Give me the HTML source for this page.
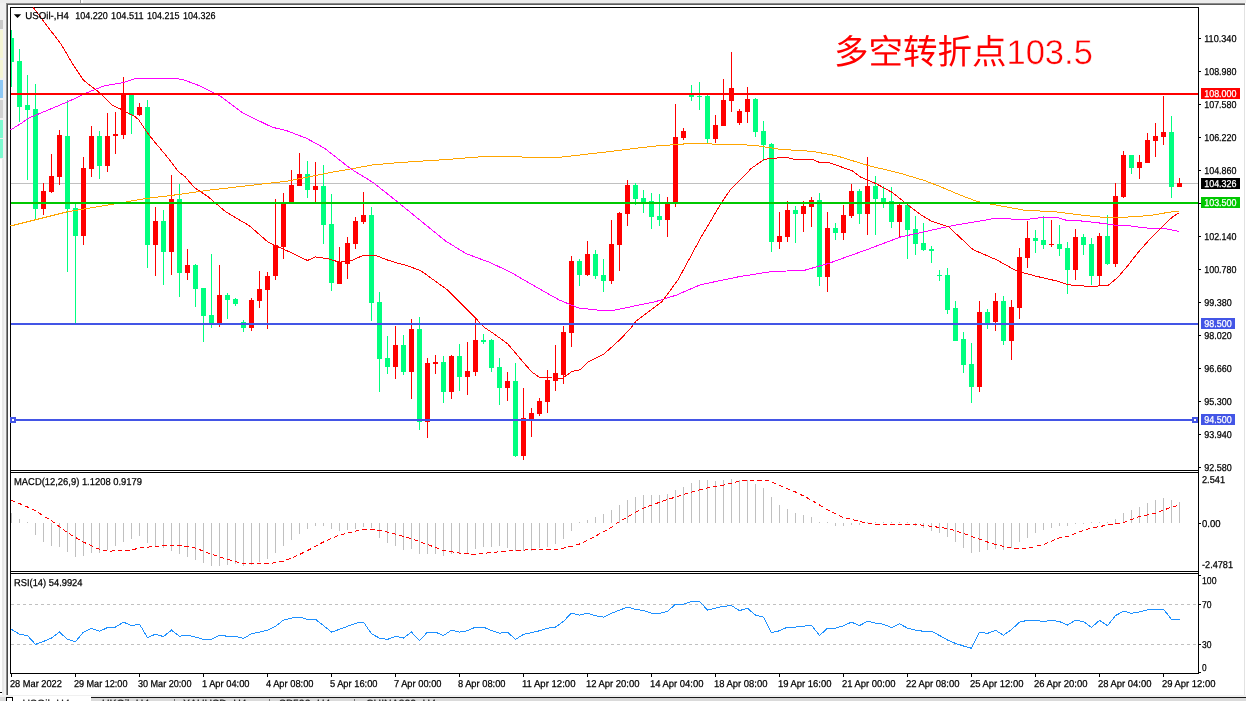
<!DOCTYPE html>
<html><head><meta charset="utf-8"><title>USOil H4</title>
<style>
html,body{margin:0;padding:0;background:#fff;}
body{width:1246px;height:701px;overflow:hidden;font-family:"Liberation Sans",sans-serif;}
svg{display:block;font-family:"Liberation Sans",sans-serif;text-rendering:geometricPrecision;will-change:transform;}
svg rect,svg polyline,svg line{shape-rendering:crispEdges;}
</style></head><body>
<svg width="1246" height="701" viewBox="0 0 1246 701">
<rect x="0" y="0" width="1246" height="701" fill="#fff"/>
<rect x="0" y="0" width="1246" height="3" fill="#ececec"/>
<rect x="80" y="0" width="1" height="3" fill="#9a9a9a"/>
<rect x="81" y="0" width="2" height="3" fill="#fdfdfd"/>
<rect x="6" y="3" width="1239" height="1" fill="#8a8a8a"/>
<rect x="6" y="4" width="1239" height="1" fill="#5a5a5a"/>
<rect x="0" y="3" width="6" height="692" fill="#f0f0f0"/>
<rect x="0" y="20" width="3" height="9" fill="#c8c8c8"/>
<rect x="0" y="30" width="3" height="28" fill="#f5f5d5"/>
<rect x="0" y="60" width="3" height="18" fill="#f5f5d5"/>
<rect x="0" y="80" width="3" height="18" fill="#8ec8f5"/>
<rect x="0" y="100" width="3" height="18" fill="#d2d2d2"/>
<rect x="0" y="120" width="3" height="18" fill="#7dfad0"/>
<rect x="0" y="139" width="3" height="19" fill="#7dfad0"/>
<rect x="0" y="159" width="2" height="536" fill="#fff"/>
<rect x="2" y="159" width="2" height="536" fill="#e9e9e9"/>
<rect x="4" y="159" width="2" height="536" fill="#f3f3f3"/>
<rect x="6" y="3" width="1" height="693" fill="#8c8c8c"/>
<rect x="7" y="4" width="1" height="692" fill="#4a4a4a"/>
<rect x="0" y="692" width="2" height="1" fill="#000"/>
<rect x="1244" y="5" width="1" height="690" fill="#e2e2e2"/>
<rect x="0" y="695" width="1246" height="2" fill="#f0f0f0"/>
<rect x="0" y="697" width="1246" height="4" fill="#dadada"/>
<rect x="13" y="696" width="78" height="5" fill="#fff"/>
<rect x="91" y="697" width="1155" height="1" fill="#1a1a1a"/>
<rect x="6" y="697" width="7" height="1" fill="#000"/>
<rect x="6" y="697" width="1" height="4" fill="#000"/>
<rect x="12" y="697" width="1" height="4" fill="#000"/>
<rect x="7" y="698" width="5" height="3" fill="#fff"/>
<text x="22.5" y="707.2" font-size="10.5" fill="#222" stroke="#222" stroke-width="0.25">USOil-,H4</text>
<text x="102" y="707.2" font-size="10.5" fill="#222" stroke="#222" stroke-width="0.25">UKOil-,H4</text>
<text x="183" y="707.2" font-size="10.5" fill="#222" stroke="#222" stroke-width="0.25">XAUUSD-,H4</text>
<text x="279" y="707.2" font-size="10.5" fill="#222" stroke="#222" stroke-width="0.25">SP500-,H4</text>
<text x="366" y="707.2" font-size="10.5" fill="#222" stroke="#222" stroke-width="0.25">CHINA300-,H4</text>
<rect x="174" y="699" width="1" height="2" fill="#777"/>
<rect x="269" y="699" width="1" height="2" fill="#777"/>
<rect x="354" y="699" width="1" height="2" fill="#777"/>
<rect x="10" y="7" width="1" height="667" fill="#000"/>
<rect x="1198" y="7" width="1" height="667" fill="#000"/>
<rect x="10" y="7" width="1189" height="1" fill="#000"/>
<rect x="10" y="470" width="1189" height="1" fill="#000"/>
<rect x="10" y="472" width="1189" height="1" fill="#000"/>
<rect x="10" y="571" width="1189" height="1" fill="#000"/>
<rect x="10" y="573" width="1189" height="1" fill="#000"/>
<rect x="10" y="673" width="1189" height="1" fill="#000"/>
<rect x="11" y="183" width="1187" height="1" fill="#c0c0c0"/>
<rect x="11" y="30" width="1" height="57" fill="#00FF7F"/>
<rect x="11" y="38" width="3" height="24" fill="#00FF7F"/>
<rect x="19" y="49" width="1" height="73" fill="#00FF7F"/>
<rect x="17" y="61" width="5" height="46" fill="#00FF7F"/>
<rect x="27" y="75" width="1" height="105" fill="#00FF7F"/>
<rect x="25" y="105" width="5" height="5" fill="#00FF7F"/>
<rect x="35" y="84" width="1" height="136" fill="#00FF7F"/>
<rect x="33" y="109" width="5" height="100" fill="#00FF7F"/>
<rect x="43" y="183" width="1" height="32" fill="#FF0000"/>
<rect x="41" y="191" width="5" height="18" fill="#FF0000"/>
<rect x="51" y="154" width="1" height="39" fill="#FF0000"/>
<rect x="49" y="176" width="5" height="16" fill="#FF0000"/>
<rect x="59" y="130" width="1" height="55" fill="#FF0000"/>
<rect x="57" y="135" width="5" height="42" fill="#FF0000"/>
<rect x="67" y="100" width="1" height="172" fill="#00FF7F"/>
<rect x="65" y="136" width="5" height="73" fill="#00FF7F"/>
<rect x="75" y="204" width="1" height="119" fill="#00FF7F"/>
<rect x="73" y="208" width="5" height="28" fill="#00FF7F"/>
<rect x="83" y="157" width="1" height="88" fill="#FF0000"/>
<rect x="81" y="168" width="5" height="68" fill="#FF0000"/>
<rect x="91" y="126" width="1" height="51" fill="#FF0000"/>
<rect x="89" y="136" width="5" height="33" fill="#FF0000"/>
<rect x="99" y="131" width="1" height="48" fill="#00FF7F"/>
<rect x="97" y="136" width="5" height="30" fill="#00FF7F"/>
<rect x="107" y="113" width="1" height="59" fill="#FF0000"/>
<rect x="105" y="136" width="5" height="30" fill="#FF0000"/>
<rect x="115" y="112" width="1" height="42" fill="#FF0000"/>
<rect x="113" y="134" width="5" height="2" fill="#FF0000"/>
<rect x="123" y="77" width="1" height="62" fill="#FF0000"/>
<rect x="121" y="93" width="5" height="42" fill="#FF0000"/>
<rect x="131" y="95" width="1" height="39" fill="#00FF7F"/>
<rect x="129" y="95" width="5" height="20" fill="#00FF7F"/>
<rect x="139" y="103" width="1" height="13" fill="#FF0000"/>
<rect x="137" y="107" width="5" height="8" fill="#FF0000"/>
<rect x="147" y="100" width="1" height="168" fill="#00FF7F"/>
<rect x="145" y="107" width="5" height="138" fill="#00FF7F"/>
<rect x="155" y="207" width="1" height="69" fill="#FF0000"/>
<rect x="153" y="221" width="5" height="24" fill="#FF0000"/>
<rect x="163" y="210" width="1" height="75" fill="#00FF7F"/>
<rect x="161" y="221" width="5" height="31" fill="#00FF7F"/>
<rect x="171" y="175" width="1" height="100" fill="#FF0000"/>
<rect x="169" y="199" width="5" height="53" fill="#FF0000"/>
<rect x="179" y="184" width="1" height="113" fill="#00FF7F"/>
<rect x="177" y="199" width="5" height="74" fill="#00FF7F"/>
<rect x="187" y="249" width="1" height="31" fill="#FF0000"/>
<rect x="185" y="265" width="5" height="8" fill="#FF0000"/>
<rect x="195" y="264" width="1" height="43" fill="#00FF7F"/>
<rect x="193" y="265" width="5" height="24" fill="#00FF7F"/>
<rect x="203" y="288" width="1" height="54" fill="#00FF7F"/>
<rect x="201" y="288" width="5" height="28" fill="#00FF7F"/>
<rect x="211" y="254" width="1" height="74" fill="#00FF7F"/>
<rect x="209" y="315" width="5" height="9" fill="#00FF7F"/>
<rect x="219" y="265" width="1" height="62" fill="#FF0000"/>
<rect x="217" y="295" width="5" height="29" fill="#FF0000"/>
<rect x="227" y="293" width="1" height="26" fill="#00FF7F"/>
<rect x="225" y="295" width="5" height="5" fill="#00FF7F"/>
<rect x="235" y="298" width="1" height="8" fill="#00FF7F"/>
<rect x="233" y="299" width="5" height="5" fill="#00FF7F"/>
<rect x="243" y="320" width="1" height="12" fill="#00FF7F"/>
<rect x="241" y="322" width="5" height="6" fill="#00FF7F"/>
<rect x="251" y="298" width="1" height="33" fill="#FF0000"/>
<rect x="249" y="300" width="5" height="28" fill="#FF0000"/>
<rect x="259" y="271" width="1" height="37" fill="#FF0000"/>
<rect x="257" y="289" width="5" height="12" fill="#FF0000"/>
<rect x="267" y="272" width="1" height="57" fill="#FF0000"/>
<rect x="265" y="276" width="5" height="14" fill="#FF0000"/>
<rect x="275" y="199" width="1" height="81" fill="#FF0000"/>
<rect x="273" y="245" width="5" height="31" fill="#FF0000"/>
<rect x="283" y="193" width="1" height="66" fill="#FF0000"/>
<rect x="281" y="204" width="5" height="43" fill="#FF0000"/>
<rect x="291" y="170" width="1" height="33" fill="#FF0000"/>
<rect x="289" y="185" width="5" height="18" fill="#FF0000"/>
<rect x="299" y="153" width="1" height="33" fill="#FF0000"/>
<rect x="297" y="174" width="5" height="12" fill="#FF0000"/>
<rect x="307" y="161" width="1" height="37" fill="#00FF7F"/>
<rect x="305" y="174" width="5" height="16" fill="#00FF7F"/>
<rect x="315" y="162" width="1" height="40" fill="#FF0000"/>
<rect x="313" y="186" width="5" height="4" fill="#FF0000"/>
<rect x="323" y="165" width="1" height="79" fill="#00FF7F"/>
<rect x="321" y="186" width="5" height="39" fill="#00FF7F"/>
<rect x="331" y="194" width="1" height="97" fill="#00FF7F"/>
<rect x="329" y="224" width="5" height="59" fill="#00FF7F"/>
<rect x="339" y="247" width="1" height="37" fill="#FF0000"/>
<rect x="337" y="262" width="5" height="22" fill="#FF0000"/>
<rect x="347" y="237" width="1" height="42" fill="#FF0000"/>
<rect x="345" y="243" width="5" height="21" fill="#FF0000"/>
<rect x="355" y="217" width="1" height="32" fill="#FF0000"/>
<rect x="353" y="221" width="5" height="23" fill="#FF0000"/>
<rect x="363" y="192" width="1" height="32" fill="#FF0000"/>
<rect x="361" y="215" width="5" height="7" fill="#FF0000"/>
<rect x="371" y="207" width="1" height="114" fill="#00FF7F"/>
<rect x="369" y="215" width="5" height="88" fill="#00FF7F"/>
<rect x="379" y="292" width="1" height="100" fill="#00FF7F"/>
<rect x="377" y="302" width="5" height="57" fill="#00FF7F"/>
<rect x="387" y="336" width="1" height="38" fill="#00FF7F"/>
<rect x="385" y="358" width="5" height="9" fill="#00FF7F"/>
<rect x="395" y="326" width="1" height="53" fill="#FF0000"/>
<rect x="393" y="345" width="5" height="22" fill="#FF0000"/>
<rect x="403" y="335" width="1" height="40" fill="#00FF7F"/>
<rect x="401" y="345" width="5" height="27" fill="#00FF7F"/>
<rect x="411" y="319" width="1" height="80" fill="#FF0000"/>
<rect x="409" y="329" width="5" height="43" fill="#FF0000"/>
<rect x="419" y="317" width="1" height="113" fill="#00FF7F"/>
<rect x="417" y="329" width="5" height="93" fill="#00FF7F"/>
<rect x="427" y="358" width="1" height="80" fill="#FF0000"/>
<rect x="425" y="363" width="5" height="59" fill="#FF0000"/>
<rect x="435" y="355" width="1" height="19" fill="#FF0000"/>
<rect x="433" y="362" width="5" height="2" fill="#FF0000"/>
<rect x="443" y="356" width="1" height="47" fill="#00FF7F"/>
<rect x="441" y="362" width="5" height="30" fill="#00FF7F"/>
<rect x="451" y="355" width="1" height="44" fill="#FF0000"/>
<rect x="449" y="356" width="5" height="36" fill="#FF0000"/>
<rect x="459" y="344" width="1" height="47" fill="#00FF7F"/>
<rect x="457" y="356" width="5" height="21" fill="#00FF7F"/>
<rect x="467" y="342" width="1" height="53" fill="#FF0000"/>
<rect x="465" y="371" width="5" height="6" fill="#FF0000"/>
<rect x="475" y="318" width="1" height="58" fill="#FF0000"/>
<rect x="473" y="340" width="5" height="32" fill="#FF0000"/>
<rect x="483" y="334" width="1" height="10" fill="#00FF7F"/>
<rect x="481" y="340" width="5" height="2" fill="#00FF7F"/>
<rect x="491" y="339" width="1" height="33" fill="#00FF7F"/>
<rect x="489" y="340" width="5" height="28" fill="#00FF7F"/>
<rect x="499" y="358" width="1" height="47" fill="#00FF7F"/>
<rect x="497" y="367" width="5" height="21" fill="#00FF7F"/>
<rect x="507" y="372" width="1" height="29" fill="#FF0000"/>
<rect x="505" y="381" width="5" height="7" fill="#FF0000"/>
<rect x="515" y="363" width="1" height="94" fill="#00FF7F"/>
<rect x="513" y="381" width="5" height="75" fill="#00FF7F"/>
<rect x="523" y="388" width="1" height="72" fill="#FF0000"/>
<rect x="521" y="418" width="5" height="38" fill="#FF0000"/>
<rect x="531" y="408" width="1" height="29" fill="#FF0000"/>
<rect x="529" y="413" width="5" height="6" fill="#FF0000"/>
<rect x="539" y="398" width="1" height="18" fill="#FF0000"/>
<rect x="537" y="401" width="5" height="13" fill="#FF0000"/>
<rect x="547" y="370" width="1" height="43" fill="#FF0000"/>
<rect x="545" y="380" width="5" height="22" fill="#FF0000"/>
<rect x="555" y="345" width="1" height="46" fill="#FF0000"/>
<rect x="553" y="373" width="5" height="8" fill="#FF0000"/>
<rect x="563" y="326" width="1" height="58" fill="#FF0000"/>
<rect x="561" y="332" width="5" height="43" fill="#FF0000"/>
<rect x="571" y="256" width="1" height="91" fill="#FF0000"/>
<rect x="569" y="261" width="5" height="72" fill="#FF0000"/>
<rect x="579" y="259" width="1" height="27" fill="#00FF7F"/>
<rect x="577" y="261" width="5" height="14" fill="#00FF7F"/>
<rect x="587" y="241" width="1" height="35" fill="#FF0000"/>
<rect x="585" y="254" width="5" height="21" fill="#FF0000"/>
<rect x="595" y="250" width="1" height="29" fill="#00FF7F"/>
<rect x="593" y="254" width="5" height="22" fill="#00FF7F"/>
<rect x="603" y="259" width="1" height="33" fill="#00FF7F"/>
<rect x="601" y="275" width="5" height="6" fill="#00FF7F"/>
<rect x="611" y="220" width="1" height="64" fill="#FF0000"/>
<rect x="609" y="244" width="5" height="37" fill="#FF0000"/>
<rect x="619" y="212" width="1" height="59" fill="#FF0000"/>
<rect x="617" y="213" width="5" height="32" fill="#FF0000"/>
<rect x="627" y="180" width="1" height="46" fill="#FF0000"/>
<rect x="625" y="185" width="5" height="29" fill="#FF0000"/>
<rect x="635" y="183" width="1" height="22" fill="#00FF7F"/>
<rect x="633" y="185" width="5" height="14" fill="#00FF7F"/>
<rect x="643" y="190" width="1" height="23" fill="#00FF7F"/>
<rect x="641" y="198" width="5" height="5" fill="#00FF7F"/>
<rect x="651" y="193" width="1" height="36" fill="#00FF7F"/>
<rect x="649" y="201" width="5" height="16" fill="#00FF7F"/>
<rect x="659" y="194" width="1" height="32" fill="#00FF7F"/>
<rect x="657" y="216" width="5" height="4" fill="#00FF7F"/>
<rect x="667" y="197" width="1" height="40" fill="#FF0000"/>
<rect x="665" y="204" width="5" height="16" fill="#FF0000"/>
<rect x="675" y="104" width="1" height="103" fill="#FF0000"/>
<rect x="673" y="137" width="5" height="65" fill="#FF0000"/>
<rect x="683" y="128" width="1" height="12" fill="#FF0000"/>
<rect x="681" y="131" width="5" height="7" fill="#FF0000"/>
<rect x="691" y="85" width="1" height="16" fill="#00FF7F"/>
<rect x="689" y="95" width="5" height="2" fill="#00FF7F"/>
<rect x="699" y="82" width="1" height="28" fill="#00FF7F"/>
<rect x="697" y="96" width="5" height="1" fill="#00FF7F"/>
<rect x="707" y="95" width="1" height="48" fill="#00FF7F"/>
<rect x="705" y="96" width="5" height="43" fill="#00FF7F"/>
<rect x="715" y="115" width="1" height="28" fill="#FF0000"/>
<rect x="713" y="125" width="5" height="14" fill="#FF0000"/>
<rect x="723" y="79" width="1" height="47" fill="#FF0000"/>
<rect x="721" y="100" width="5" height="26" fill="#FF0000"/>
<rect x="731" y="52" width="1" height="60" fill="#FF0000"/>
<rect x="729" y="88" width="5" height="13" fill="#FF0000"/>
<rect x="739" y="109" width="1" height="16" fill="#FF0000"/>
<rect x="737" y="111" width="5" height="12" fill="#FF0000"/>
<rect x="747" y="87" width="1" height="36" fill="#FF0000"/>
<rect x="745" y="99" width="5" height="13" fill="#FF0000"/>
<rect x="755" y="98" width="1" height="39" fill="#00FF7F"/>
<rect x="753" y="99" width="5" height="33" fill="#00FF7F"/>
<rect x="763" y="121" width="1" height="40" fill="#00FF7F"/>
<rect x="761" y="131" width="5" height="14" fill="#00FF7F"/>
<rect x="771" y="143" width="1" height="109" fill="#00FF7F"/>
<rect x="769" y="144" width="5" height="98" fill="#00FF7F"/>
<rect x="779" y="212" width="1" height="37" fill="#FF0000"/>
<rect x="777" y="236" width="5" height="6" fill="#FF0000"/>
<rect x="787" y="201" width="1" height="41" fill="#FF0000"/>
<rect x="785" y="210" width="5" height="27" fill="#FF0000"/>
<rect x="795" y="206" width="1" height="37" fill="#00FF7F"/>
<rect x="793" y="210" width="5" height="4" fill="#00FF7F"/>
<rect x="803" y="201" width="1" height="31" fill="#FF0000"/>
<rect x="801" y="206" width="5" height="8" fill="#FF0000"/>
<rect x="811" y="197" width="1" height="30" fill="#FF0000"/>
<rect x="809" y="200" width="5" height="7" fill="#FF0000"/>
<rect x="819" y="193" width="1" height="93" fill="#00FF7F"/>
<rect x="817" y="200" width="5" height="77" fill="#00FF7F"/>
<rect x="827" y="212" width="1" height="80" fill="#FF0000"/>
<rect x="825" y="228" width="5" height="49" fill="#FF0000"/>
<rect x="835" y="223" width="1" height="17" fill="#00FF7F"/>
<rect x="833" y="228" width="5" height="5" fill="#00FF7F"/>
<rect x="843" y="205" width="1" height="35" fill="#FF0000"/>
<rect x="841" y="215" width="5" height="18" fill="#FF0000"/>
<rect x="851" y="184" width="1" height="34" fill="#FF0000"/>
<rect x="849" y="191" width="5" height="25" fill="#FF0000"/>
<rect x="859" y="189" width="1" height="35" fill="#00FF7F"/>
<rect x="857" y="191" width="5" height="23" fill="#00FF7F"/>
<rect x="867" y="157" width="1" height="78" fill="#FF0000"/>
<rect x="865" y="186" width="5" height="28" fill="#FF0000"/>
<rect x="875" y="176" width="1" height="59" fill="#00FF7F"/>
<rect x="873" y="186" width="5" height="13" fill="#00FF7F"/>
<rect x="883" y="186" width="1" height="22" fill="#00FF7F"/>
<rect x="881" y="198" width="5" height="5" fill="#00FF7F"/>
<rect x="891" y="187" width="1" height="41" fill="#00FF7F"/>
<rect x="889" y="201" width="5" height="21" fill="#00FF7F"/>
<rect x="899" y="204" width="1" height="33" fill="#FF0000"/>
<rect x="897" y="205" width="5" height="17" fill="#FF0000"/>
<rect x="907" y="204" width="1" height="55" fill="#00FF7F"/>
<rect x="905" y="205" width="5" height="25" fill="#00FF7F"/>
<rect x="915" y="216" width="1" height="39" fill="#00FF7F"/>
<rect x="913" y="229" width="5" height="15" fill="#00FF7F"/>
<rect x="923" y="223" width="1" height="28" fill="#00FF7F"/>
<rect x="921" y="243" width="5" height="7" fill="#00FF7F"/>
<rect x="931" y="246" width="1" height="17" fill="#00FF7F"/>
<rect x="929" y="249" width="5" height="2" fill="#00FF7F"/>
<rect x="939" y="270" width="1" height="11" fill="#00FF7F"/>
<rect x="937" y="275" width="5" height="1" fill="#00FF7F"/>
<rect x="947" y="268" width="1" height="46" fill="#00FF7F"/>
<rect x="945" y="275" width="5" height="35" fill="#00FF7F"/>
<rect x="955" y="301" width="1" height="40" fill="#00FF7F"/>
<rect x="953" y="308" width="5" height="33" fill="#00FF7F"/>
<rect x="963" y="332" width="1" height="41" fill="#00FF7F"/>
<rect x="961" y="339" width="5" height="26" fill="#00FF7F"/>
<rect x="971" y="343" width="1" height="60" fill="#00FF7F"/>
<rect x="969" y="364" width="5" height="23" fill="#00FF7F"/>
<rect x="979" y="301" width="1" height="91" fill="#FF0000"/>
<rect x="977" y="312" width="5" height="75" fill="#FF0000"/>
<rect x="987" y="309" width="1" height="20" fill="#00FF7F"/>
<rect x="985" y="312" width="5" height="12" fill="#00FF7F"/>
<rect x="995" y="293" width="1" height="38" fill="#FF0000"/>
<rect x="993" y="301" width="5" height="21" fill="#FF0000"/>
<rect x="1003" y="296" width="1" height="49" fill="#00FF7F"/>
<rect x="1001" y="301" width="5" height="40" fill="#00FF7F"/>
<rect x="1011" y="300" width="1" height="60" fill="#FF0000"/>
<rect x="1009" y="307" width="5" height="34" fill="#FF0000"/>
<rect x="1019" y="248" width="1" height="71" fill="#FF0000"/>
<rect x="1017" y="257" width="5" height="51" fill="#FF0000"/>
<rect x="1027" y="221" width="1" height="47" fill="#FF0000"/>
<rect x="1025" y="238" width="5" height="20" fill="#FF0000"/>
<rect x="1035" y="230" width="1" height="23" fill="#00FF7F"/>
<rect x="1033" y="238" width="5" height="3" fill="#00FF7F"/>
<rect x="1043" y="216" width="1" height="33" fill="#00FF7F"/>
<rect x="1041" y="240" width="5" height="5" fill="#00FF7F"/>
<rect x="1051" y="220" width="1" height="27" fill="#FF0000"/>
<rect x="1049" y="244" width="5" height="1" fill="#FF0000"/>
<rect x="1059" y="225" width="1" height="31" fill="#00FF7F"/>
<rect x="1057" y="244" width="5" height="5" fill="#00FF7F"/>
<rect x="1067" y="242" width="1" height="52" fill="#00FF7F"/>
<rect x="1065" y="248" width="5" height="22" fill="#00FF7F"/>
<rect x="1075" y="229" width="1" height="51" fill="#FF0000"/>
<rect x="1073" y="237" width="5" height="33" fill="#FF0000"/>
<rect x="1083" y="234" width="1" height="21" fill="#00FF7F"/>
<rect x="1081" y="237" width="5" height="8" fill="#00FF7F"/>
<rect x="1091" y="238" width="1" height="47" fill="#00FF7F"/>
<rect x="1089" y="244" width="5" height="32" fill="#00FF7F"/>
<rect x="1099" y="233" width="1" height="52" fill="#FF0000"/>
<rect x="1097" y="236" width="5" height="40" fill="#FF0000"/>
<rect x="1107" y="215" width="1" height="50" fill="#00FF7F"/>
<rect x="1105" y="236" width="5" height="28" fill="#00FF7F"/>
<rect x="1115" y="183" width="1" height="84" fill="#FF0000"/>
<rect x="1113" y="196" width="5" height="68" fill="#FF0000"/>
<rect x="1123" y="151" width="1" height="47" fill="#FF0000"/>
<rect x="1121" y="155" width="5" height="42" fill="#FF0000"/>
<rect x="1131" y="155" width="1" height="19" fill="#00FF7F"/>
<rect x="1129" y="155" width="5" height="13" fill="#00FF7F"/>
<rect x="1139" y="155" width="1" height="24" fill="#FF0000"/>
<rect x="1137" y="162" width="5" height="6" fill="#FF0000"/>
<rect x="1147" y="133" width="1" height="30" fill="#FF0000"/>
<rect x="1145" y="140" width="5" height="23" fill="#FF0000"/>
<rect x="1155" y="123" width="1" height="34" fill="#FF0000"/>
<rect x="1153" y="136" width="5" height="5" fill="#FF0000"/>
<rect x="1163" y="96" width="1" height="49" fill="#FF0000"/>
<rect x="1161" y="132" width="5" height="5" fill="#FF0000"/>
<rect x="1171" y="116" width="1" height="82" fill="#00FF7F"/>
<rect x="1169" y="132" width="5" height="55" fill="#00FF7F"/>
<rect x="1179" y="178" width="1" height="9" fill="#FF0000"/>
<rect x="1177" y="183" width="5" height="4" fill="#FF0000"/>
<polyline points="10.5,226 67.4,211.8 117.1,203.5 144.4,198.7 171.7,195.4 200,191.5 208,190.3 286.7,181.2 296.3,179.3 330,172.6 350.9,168.9 373.4,164.8 400,162.5 445.6,159.6 488.9,156.1 517.8,156.1 523.6,157.3 540,157.5 557.7,157.5 604.2,152.2 652.4,146.3 687.7,143.7 710.1,143.4 713.4,144.5 740,144.5 756,145.6 780.1,149.3 812.2,151.3 836.3,155.7 868.4,165.6 900.5,173.3 924.6,180.6 940,186.5 960.1,195 977.8,201.7 1024.3,210.2 1056.4,211.9 1088.5,215.9 1104.6,217.5 1127.1,217.1 1150.6,215.5 1167.9,212.4 1179,211.1" fill="none" stroke="#FFA500" stroke-width="1"/>
<polyline points="10.5,130 24,121.6 27.3,118.7 48.1,110 67.4,101.9 88.3,92.2 104.3,85.8 123.6,82.6 134.8,78.6 160.5,78.6 175,78.1 184.6,80.2 200,85.9 220.2,96 243.3,113.3 272.2,127.2 286.7,130.7 306.9,138.5 324.2,148 344.5,163.9 350.9,168.9 373.4,182.7 397.4,201.8 425.4,224.6 445.6,241 465.8,253.5 488.9,262.1 509.2,271.4 541.4,290 559.3,300 578.5,308 601,310.4 615.4,310 636.3,305.6 655.6,301.6 676.4,295.1 700.5,284.7 740,276.5 772.1,271.5 804.2,270.4 828.3,263.5 868.4,249.1 900.5,237 920,232.7 948.9,226.3 993.8,218.6 1027.5,219.4 1043.6,217.2 1056.4,217.2 1066.1,220.2 1080.5,220.9 1096.6,222.6 1116.1,225.3 1127.1,225.4 1142.8,227.8 1166.3,228.9 1179,231.5" fill="none" stroke="#FF00FF" stroke-width="1"/>
<polyline points="33,7 42.5,20 61,44 72.2,63.3 83.4,80.2 97.9,91.4 112.3,105 120.4,109 134.8,116.3 138.8,120 146,130.8 152.5,139.3 168.5,158.5 178.1,171.4 184.6,176.2 194.2,187.4 200,191.2 208,196.7 226,212 249,225.5 267.4,241.5 272.2,244.2 286.7,250.6 307.5,260.5 315.6,256.9 328.4,258.9 339.6,262.2 352.5,260.1 363.7,255.2 375,255.2 387.8,260.1 400,263.8 408,265.9 421,270.8 447.5,290 464.3,306.9 475.6,318.1 483.6,326.9 493.2,333.3 507.7,343.8 520.5,359 531.7,371.9 539.8,377.5 560,378.3 562.5,378.2 572.1,371.4 580.1,369.8 588.2,361.8 604.2,353.8 620.3,339.3 631.5,327.3 636.3,320.9 652.4,308.8 662,301.6 678,279.9 700.5,238.2 721.4,202.8 730.2,190 740,180 751.2,168.5 764.1,159.4 772.1,158.4 786.5,157.3 794.6,159.4 812.2,159.4 818.7,162.1 829.9,162.9 852.4,170.9 860.4,177 876.4,183.8 892.5,192.6 908.5,205.4 921.4,215.1 931.2,221 948.9,227.1 973,249.6 997,260 1016.3,270.8 1035.6,276.1 1056.4,280.9 1069.3,284.9 1090.1,286.5 1108.2,285.4 1117.7,277.5 1127.1,266.5 1138.1,252.4 1150.6,238.3 1161.6,227.3 1172.6,216.8 1179,212.9" fill="none" stroke="#FF0000" stroke-width="1"/>
<rect x="11" y="93" width="1187" height="2" fill="#FF0000"/>
<rect x="11" y="202" width="1187" height="2" fill="#00C800"/>
<rect x="11" y="323" width="1187" height="2" fill="#4355E6"/>
<rect x="11" y="419" width="1187" height="2" fill="#4355E6"/>
<rect x="10" y="417" width="6" height="6" fill="#4355E6"/>
<rect x="12" y="419" width="2" height="2" fill="#fff"/>
<rect x="1192" y="417" width="6" height="6" fill="#4355E6"/>
<rect x="1194" y="419" width="2" height="2" fill="#fff"/>
<rect x="1199" y="38" width="2" height="1" fill="#000"/>
<text x="1204.2" y="42" font-size="10" fill="#000" stroke="#000" stroke-width="0.25" textLength="32.3" lengthAdjust="spacingAndGlyphs">110.340</text>
<rect x="1199" y="71" width="2" height="1" fill="#000"/>
<text x="1204.2" y="75" font-size="10" fill="#000" stroke="#000" stroke-width="0.25" textLength="32.3" lengthAdjust="spacingAndGlyphs">108.980</text>
<rect x="1199" y="104" width="2" height="1" fill="#000"/>
<text x="1204.2" y="108" font-size="10" fill="#000" stroke="#000" stroke-width="0.25" textLength="32.3" lengthAdjust="spacingAndGlyphs">107.580</text>
<rect x="1199" y="137" width="2" height="1" fill="#000"/>
<text x="1204.2" y="141" font-size="10" fill="#000" stroke="#000" stroke-width="0.25" textLength="32.3" lengthAdjust="spacingAndGlyphs">106.220</text>
<rect x="1199" y="170" width="2" height="1" fill="#000"/>
<text x="1204.2" y="174" font-size="10" fill="#000" stroke="#000" stroke-width="0.25" textLength="32.3" lengthAdjust="spacingAndGlyphs">104.860</text>
<rect x="1199" y="203" width="2" height="1" fill="#000"/>
<rect x="1199" y="236" width="2" height="1" fill="#000"/>
<text x="1204.2" y="240" font-size="10" fill="#000" stroke="#000" stroke-width="0.25" textLength="32.3" lengthAdjust="spacingAndGlyphs">102.140</text>
<rect x="1199" y="269" width="2" height="1" fill="#000"/>
<text x="1204.2" y="273" font-size="10" fill="#000" stroke="#000" stroke-width="0.25" textLength="32.3" lengthAdjust="spacingAndGlyphs">100.780</text>
<rect x="1199" y="302" width="2" height="1" fill="#000"/>
<text x="1204.2" y="306" font-size="10" fill="#000" stroke="#000" stroke-width="0.25" textLength="27.5" lengthAdjust="spacingAndGlyphs">99.380</text>
<rect x="1199" y="335" width="2" height="1" fill="#000"/>
<text x="1204.2" y="339" font-size="10" fill="#000" stroke="#000" stroke-width="0.25" textLength="27.5" lengthAdjust="spacingAndGlyphs">98.020</text>
<rect x="1199" y="368" width="2" height="1" fill="#000"/>
<text x="1204.2" y="372" font-size="10" fill="#000" stroke="#000" stroke-width="0.25" textLength="27.5" lengthAdjust="spacingAndGlyphs">96.660</text>
<rect x="1199" y="401" width="2" height="1" fill="#000"/>
<text x="1204.2" y="405" font-size="10" fill="#000" stroke="#000" stroke-width="0.25" textLength="27.5" lengthAdjust="spacingAndGlyphs">95.300</text>
<rect x="1199" y="434" width="2" height="1" fill="#000"/>
<text x="1204.2" y="438" font-size="10" fill="#000" stroke="#000" stroke-width="0.25" textLength="27.5" lengthAdjust="spacingAndGlyphs">93.940</text>
<rect x="1199" y="467" width="2" height="1" fill="#000"/>
<text x="1204.2" y="471" font-size="10" fill="#000" stroke="#000" stroke-width="0.25" textLength="27.5" lengthAdjust="spacingAndGlyphs">92.580</text>
<rect x="1201" y="88" width="39" height="11" fill="#FF0000"/>
<text x="1204.2" y="97" font-size="10" fill="#fff" stroke="#fff" stroke-width="0.25" textLength="32.3" lengthAdjust="spacingAndGlyphs">108.000</text>
<rect x="1201" y="178" width="39" height="11" fill="#000"/>
<text x="1204.2" y="187" font-size="10" fill="#fff" stroke="#fff" stroke-width="0.25" textLength="32.3" lengthAdjust="spacingAndGlyphs">104.326</text>
<rect x="1201" y="197" width="39" height="11" fill="#00C800"/>
<text x="1204.2" y="206" font-size="10" fill="#fff" stroke="#fff" stroke-width="0.25" textLength="32.3" lengthAdjust="spacingAndGlyphs">103.500</text>
<rect x="1201" y="318" width="34" height="11" fill="#4355E6"/>
<text x="1204.2" y="327" font-size="10" fill="#fff" stroke="#fff" stroke-width="0.25" textLength="27.5" lengthAdjust="spacingAndGlyphs">98.500</text>
<rect x="1201" y="414" width="34" height="11" fill="#4355E6"/>
<text x="1204.2" y="423" font-size="10" fill="#fff" stroke="#fff" stroke-width="0.25" textLength="27.5" lengthAdjust="spacingAndGlyphs">94.500</text>
<polygon points="13.8,14.3 21.2,14.3 17.5,18" fill="#000"/>
<text x="25.3" y="19" font-size="10" fill="#000" stroke="#000" stroke-width="0.25" textLength="43.6" lengthAdjust="spacingAndGlyphs">USOil-,H4</text>
<text x="75.3" y="19" font-size="10" fill="#000" stroke="#000" stroke-width="0.25" textLength="32.5" lengthAdjust="spacingAndGlyphs">104.220</text>
<text x="111.1" y="19" font-size="10" fill="#000" stroke="#000" stroke-width="0.25" textLength="32.5" lengthAdjust="spacingAndGlyphs">104.511</text>
<text x="147.1" y="19" font-size="10" fill="#000" stroke="#000" stroke-width="0.25" textLength="32.5" lengthAdjust="spacingAndGlyphs">104.215</text>
<text x="183" y="19" font-size="10" fill="#000" stroke="#000" stroke-width="0.25" textLength="32.5" lengthAdjust="spacingAndGlyphs">104.326</text>
<text x="834" y="64" font-size="34.5" fill="#FF0000" font-family="&quot;Liberation Sans&quot;, &quot;Noto Sans CJK SC&quot;, sans-serif">多空转折点</text>
<text x="1006.5" y="64" font-size="34.5" fill="#FF0000" stroke="#fff" stroke-width="0.45">103.5</text>
<rect x="11" y="513" width="1" height="10" fill="#c0c0c0"/>
<rect x="19" y="519" width="1" height="4" fill="#c0c0c0"/>
<rect x="27" y="522" width="1" height="1" fill="#c0c0c0"/>
<rect x="35" y="523" width="1" height="12" fill="#c0c0c0"/>
<rect x="43" y="523" width="1" height="19" fill="#c0c0c0"/>
<rect x="51" y="523" width="1" height="23" fill="#c0c0c0"/>
<rect x="59" y="523" width="1" height="24" fill="#c0c0c0"/>
<rect x="67" y="523" width="1" height="29" fill="#c0c0c0"/>
<rect x="75" y="523" width="1" height="34" fill="#c0c0c0"/>
<rect x="83" y="523" width="1" height="33" fill="#c0c0c0"/>
<rect x="91" y="523" width="1" height="30" fill="#c0c0c0"/>
<rect x="99" y="523" width="1" height="30" fill="#c0c0c0"/>
<rect x="107" y="523" width="1" height="27" fill="#c0c0c0"/>
<rect x="115" y="523" width="1" height="23" fill="#c0c0c0"/>
<rect x="123" y="523" width="1" height="19" fill="#c0c0c0"/>
<rect x="131" y="523" width="1" height="16" fill="#c0c0c0"/>
<rect x="139" y="523" width="1" height="13" fill="#c0c0c0"/>
<rect x="147" y="523" width="1" height="20" fill="#c0c0c0"/>
<rect x="155" y="523" width="1" height="23" fill="#c0c0c0"/>
<rect x="163" y="523" width="1" height="25" fill="#c0c0c0"/>
<rect x="171" y="523" width="1" height="28" fill="#c0c0c0"/>
<rect x="179" y="523" width="1" height="31" fill="#c0c0c0"/>
<rect x="187" y="523" width="1" height="34" fill="#c0c0c0"/>
<rect x="195" y="523" width="1" height="37" fill="#c0c0c0"/>
<rect x="203" y="523" width="1" height="40" fill="#c0c0c0"/>
<rect x="211" y="523" width="1" height="43" fill="#c0c0c0"/>
<rect x="219" y="523" width="1" height="43" fill="#c0c0c0"/>
<rect x="227" y="523" width="1" height="42" fill="#c0c0c0"/>
<rect x="235" y="523" width="1" height="41" fill="#c0c0c0"/>
<rect x="243" y="523" width="1" height="43" fill="#c0c0c0"/>
<rect x="251" y="523" width="1" height="42" fill="#c0c0c0"/>
<rect x="259" y="523" width="1" height="39" fill="#c0c0c0"/>
<rect x="267" y="523" width="1" height="36" fill="#c0c0c0"/>
<rect x="275" y="523" width="1" height="30" fill="#c0c0c0"/>
<rect x="283" y="523" width="1" height="23" fill="#c0c0c0"/>
<rect x="291" y="523" width="1" height="17" fill="#c0c0c0"/>
<rect x="299" y="523" width="1" height="11" fill="#c0c0c0"/>
<rect x="307" y="523" width="1" height="6" fill="#c0c0c0"/>
<rect x="315" y="523" width="1" height="3" fill="#c0c0c0"/>
<rect x="323" y="523" width="1" height="3" fill="#c0c0c0"/>
<rect x="331" y="523" width="1" height="6" fill="#c0c0c0"/>
<rect x="339" y="523" width="1" height="8" fill="#c0c0c0"/>
<rect x="347" y="523" width="1" height="7" fill="#c0c0c0"/>
<rect x="355" y="523" width="1" height="6" fill="#c0c0c0"/>
<rect x="363" y="523" width="1" height="4" fill="#c0c0c0"/>
<rect x="371" y="523" width="1" height="5" fill="#c0c0c0"/>
<rect x="379" y="523" width="1" height="15" fill="#c0c0c0"/>
<rect x="387" y="523" width="1" height="20" fill="#c0c0c0"/>
<rect x="395" y="523" width="1" height="23" fill="#c0c0c0"/>
<rect x="403" y="523" width="1" height="27" fill="#c0c0c0"/>
<rect x="411" y="523" width="1" height="26" fill="#c0c0c0"/>
<rect x="419" y="523" width="1" height="31" fill="#c0c0c0"/>
<rect x="427" y="523" width="1" height="31" fill="#c0c0c0"/>
<rect x="435" y="523" width="1" height="31" fill="#c0c0c0"/>
<rect x="443" y="523" width="1" height="33" fill="#c0c0c0"/>
<rect x="451" y="523" width="1" height="31" fill="#c0c0c0"/>
<rect x="459" y="523" width="1" height="31" fill="#c0c0c0"/>
<rect x="467" y="523" width="1" height="30" fill="#c0c0c0"/>
<rect x="475" y="523" width="1" height="26" fill="#c0c0c0"/>
<rect x="483" y="523" width="1" height="24" fill="#c0c0c0"/>
<rect x="491" y="523" width="1" height="24" fill="#c0c0c0"/>
<rect x="499" y="523" width="1" height="23" fill="#c0c0c0"/>
<rect x="507" y="523" width="1" height="25" fill="#c0c0c0"/>
<rect x="515" y="523" width="1" height="28" fill="#c0c0c0"/>
<rect x="523" y="523" width="1" height="28" fill="#c0c0c0"/>
<rect x="531" y="523" width="1" height="28" fill="#c0c0c0"/>
<rect x="539" y="523" width="1" height="25" fill="#c0c0c0"/>
<rect x="547" y="523" width="1" height="24" fill="#c0c0c0"/>
<rect x="555" y="523" width="1" height="21" fill="#c0c0c0"/>
<rect x="563" y="523" width="1" height="16" fill="#c0c0c0"/>
<rect x="571" y="523" width="1" height="8" fill="#c0c0c0"/>
<rect x="579" y="522" width="1" height="1" fill="#c0c0c0"/>
<rect x="587" y="520" width="1" height="3" fill="#c0c0c0"/>
<rect x="595" y="517" width="1" height="6" fill="#c0c0c0"/>
<rect x="603" y="514" width="1" height="9" fill="#c0c0c0"/>
<rect x="611" y="510" width="1" height="13" fill="#c0c0c0"/>
<rect x="619" y="505" width="1" height="18" fill="#c0c0c0"/>
<rect x="627" y="500" width="1" height="23" fill="#c0c0c0"/>
<rect x="635" y="497" width="1" height="26" fill="#c0c0c0"/>
<rect x="643" y="495" width="1" height="28" fill="#c0c0c0"/>
<rect x="651" y="495" width="1" height="28" fill="#c0c0c0"/>
<rect x="659" y="495" width="1" height="28" fill="#c0c0c0"/>
<rect x="667" y="494" width="1" height="29" fill="#c0c0c0"/>
<rect x="675" y="490" width="1" height="33" fill="#c0c0c0"/>
<rect x="683" y="487" width="1" height="36" fill="#c0c0c0"/>
<rect x="691" y="483" width="1" height="40" fill="#c0c0c0"/>
<rect x="699" y="480" width="1" height="43" fill="#c0c0c0"/>
<rect x="707" y="480" width="1" height="43" fill="#c0c0c0"/>
<rect x="715" y="481" width="1" height="42" fill="#c0c0c0"/>
<rect x="723" y="480" width="1" height="43" fill="#c0c0c0"/>
<rect x="731" y="479" width="1" height="44" fill="#c0c0c0"/>
<rect x="739" y="480" width="1" height="43" fill="#c0c0c0"/>
<rect x="747" y="480" width="1" height="43" fill="#c0c0c0"/>
<rect x="755" y="484" width="1" height="39" fill="#c0c0c0"/>
<rect x="763" y="488" width="1" height="35" fill="#c0c0c0"/>
<rect x="771" y="497" width="1" height="26" fill="#c0c0c0"/>
<rect x="779" y="505" width="1" height="18" fill="#c0c0c0"/>
<rect x="787" y="509" width="1" height="14" fill="#c0c0c0"/>
<rect x="795" y="513" width="1" height="10" fill="#c0c0c0"/>
<rect x="803" y="515" width="1" height="8" fill="#c0c0c0"/>
<rect x="811" y="517" width="1" height="6" fill="#c0c0c0"/>
<rect x="819" y="522" width="1" height="1" fill="#c0c0c0"/>
<rect x="827" y="522" width="1" height="1" fill="#c0c0c0"/>
<rect x="835" y="523" width="1" height="3" fill="#c0c0c0"/>
<rect x="843" y="523" width="1" height="3" fill="#c0c0c0"/>
<rect x="851" y="523" width="1" height="2" fill="#c0c0c0"/>
<rect x="859" y="523" width="1" height="2" fill="#c0c0c0"/>
<rect x="867" y="522" width="1" height="1" fill="#c0c0c0"/>
<rect x="875" y="522" width="1" height="1" fill="#c0c0c0"/>
<rect x="883" y="522" width="1" height="1" fill="#c0c0c0"/>
<rect x="891" y="522" width="1" height="1" fill="#c0c0c0"/>
<rect x="899" y="522" width="1" height="1" fill="#c0c0c0"/>
<rect x="907" y="522" width="1" height="1" fill="#c0c0c0"/>
<rect x="915" y="523" width="1" height="3" fill="#c0c0c0"/>
<rect x="923" y="523" width="1" height="5" fill="#c0c0c0"/>
<rect x="931" y="523" width="1" height="8" fill="#c0c0c0"/>
<rect x="939" y="523" width="1" height="10" fill="#c0c0c0"/>
<rect x="947" y="523" width="1" height="14" fill="#c0c0c0"/>
<rect x="955" y="523" width="1" height="19" fill="#c0c0c0"/>
<rect x="963" y="523" width="1" height="25" fill="#c0c0c0"/>
<rect x="971" y="523" width="1" height="30" fill="#c0c0c0"/>
<rect x="979" y="523" width="1" height="29" fill="#c0c0c0"/>
<rect x="987" y="523" width="1" height="27" fill="#c0c0c0"/>
<rect x="995" y="523" width="1" height="26" fill="#c0c0c0"/>
<rect x="1003" y="523" width="1" height="27" fill="#c0c0c0"/>
<rect x="1011" y="523" width="1" height="25" fill="#c0c0c0"/>
<rect x="1019" y="523" width="1" height="19" fill="#c0c0c0"/>
<rect x="1027" y="523" width="1" height="15" fill="#c0c0c0"/>
<rect x="1035" y="523" width="1" height="10" fill="#c0c0c0"/>
<rect x="1043" y="523" width="1" height="7" fill="#c0c0c0"/>
<rect x="1051" y="523" width="1" height="5" fill="#c0c0c0"/>
<rect x="1059" y="523" width="1" height="3" fill="#c0c0c0"/>
<rect x="1067" y="523" width="1" height="3" fill="#c0c0c0"/>
<rect x="1075" y="523" width="1" height="1" fill="#c0c0c0"/>
<rect x="1083" y="523" width="1" height="1" fill="#c0c0c0"/>
<rect x="1091" y="522" width="1" height="1" fill="#c0c0c0"/>
<rect x="1099" y="522" width="1" height="1" fill="#c0c0c0"/>
<rect x="1107" y="522" width="1" height="1" fill="#c0c0c0"/>
<rect x="1115" y="519" width="1" height="4" fill="#c0c0c0"/>
<rect x="1123" y="513" width="1" height="10" fill="#c0c0c0"/>
<rect x="1131" y="510" width="1" height="13" fill="#c0c0c0"/>
<rect x="1139" y="507" width="1" height="16" fill="#c0c0c0"/>
<rect x="1147" y="503" width="1" height="20" fill="#c0c0c0"/>
<rect x="1155" y="500" width="1" height="23" fill="#c0c0c0"/>
<rect x="1163" y="498" width="1" height="25" fill="#c0c0c0"/>
<rect x="1171" y="500" width="1" height="23" fill="#c0c0c0"/>
<rect x="1179" y="502" width="1" height="21" fill="#c0c0c0"/>
<polyline points="11,500 33,509.3 53,521.8 68.1,533.1 83.1,541.9 98.1,548.9 108.2,551.1 130.7,550.6 138.2,548.1 163.2,545.6 180.8,545.6 195.8,548.1 208.3,553.1 220.8,557.4 233.3,561.1 245.9,563.9 268.4,563.9 283.4,561.1 298.4,555.1 313.3,547.6 324.5,541.4 339.5,535.1 354.6,531.3 362.1,529.3 379.6,530.1 394.6,533.8 412.2,538.9 427.2,544.4 442.2,550.1 459.7,553.1 474.7,554.4 492.3,552.4 512.3,550.6 537.3,549.4 557.4,549.4 572.4,546.1 579.9,543.9 594.9,536.4 612.4,526.8 617.3,523 628.5,516.3 643.5,508.1 658.6,502.6 676.1,496.8 691.1,492.3 708.6,487.5 723.7,485 738.7,481.3 748.7,480 766.2,480 778.7,485 796.3,492.3 811.3,500 828.8,510.6 841.3,516.8 858.9,521.1 868.9,523.8 891.4,524.8 908.9,524.1 921.3,525 935.7,526.9 948.8,528.7 961.9,532.9 977.6,538.6 990.6,543.1 1003.7,546.5 1019.4,549.1 1027.3,548.3 1043,544.7 1058.7,538.1 1069.1,536 1082.2,530.8 1092.7,527.7 1108.4,525 1124.1,522.2 1139.8,516.4 1155.5,513.3 1171.2,507.2 1179,505.2" fill="none" stroke="#FF0000" stroke-width="1" stroke-dasharray="4.5 3"/>
<text x="14" y="485" font-size="10" fill="#000" stroke="#000" stroke-width="0.25" textLength="128" lengthAdjust="spacingAndGlyphs">MACD(12,26,9) 1.1208 0.9179</text>
<rect x="1199" y="523" width="2" height="1" fill="#000"/>
<text x="1202" y="483" font-size="10" fill="#000" stroke="#000" stroke-width="0.25" textLength="23" lengthAdjust="spacingAndGlyphs">2.541</text>
<text x="1202" y="527" font-size="10" fill="#000" stroke="#000" stroke-width="0.25" textLength="18.5" lengthAdjust="spacingAndGlyphs">0.00</text>
<text x="1202" y="567.5" font-size="10" fill="#000" stroke="#000" stroke-width="0.25" textLength="31" lengthAdjust="spacingAndGlyphs">-2.4781</text>
<line x1="11" x2="1198" y1="604.5" y2="604.5" stroke="#c0c0c0" stroke-width="1" stroke-dasharray="3 3"/>
<line x1="11" x2="1198" y1="644.5" y2="644.5" stroke="#c0c0c0" stroke-width="1" stroke-dasharray="3 3"/>
<polyline points="11.5,629.3 19.5,634.3 27.5,635.6 35.5,644.4 43.5,641.4 51.5,638.1 59.5,632.1 67.5,639.4 75.5,641.6 83.5,632.1 91.5,628.3 99.5,631.3 107.5,627.6 115.5,627.1 123.5,622.1 131.5,625.6 139.5,624.1 147.5,637.6 155.5,634.1 163.5,636.6 171.5,630.1 179.5,636.3 187.5,635.1 195.5,637.1 203.5,639.4 211.5,639.4 219.5,635.1 227.5,636.3 235.5,636.3 243.5,638.4 251.5,633.8 259.5,632.1 267.5,630.1 275.5,626.3 283.5,620.1 291.5,618.1 299.5,617.1 307.5,619.3 315.5,619.3 323.5,625.6 331.5,632.1 339.5,629.3 347.5,626.3 355.5,623.3 363.5,622.1 371.5,633.8 379.5,638.1 387.5,639.4 395.5,636.3 403.5,638.1 411.5,632.1 419.5,640.6 427.5,632.1 435.5,632.1 443.5,635.6 451.5,630.1 459.5,632.1 467.5,630.8 475.5,627.1 483.5,627.1 491.5,630.6 499.5,633.3 507.5,632.1 515.5,639.4 523.5,634.3 531.5,632.6 539.5,630.8 547.5,628.3 555.5,627.1 563.5,621.3 571.5,613.1 579.5,615.1 587.5,613.1 595.5,615.8 603.5,617.1 611.5,613.3 619.5,610.1 627.5,607.1 635.5,609.3 643.5,610.6 651.5,613.3 659.5,613.3 667.5,611.3 675.5,604.3 683.5,604.3 691.5,601.3 699.5,601.3 707.5,610.1 715.5,608.1 723.5,606.3 731.5,605.6 739.5,610.6 747.5,608.3 755.5,615.1 763.5,617.1 771.5,632.6 779.5,630.8 787.5,627.1 795.5,627.1 803.5,626.3 811.5,625.1 819.5,635.6 827.5,628.1 835.5,628.1 843.5,625.8 851.5,622.1 859.5,625.6 867.5,621.3 875.5,623.1 883.5,624.3 891.5,627.6 899.5,623.8 907.5,628.1 915.5,630.1 923.5,631.3 931.5,631.3 939.5,635.5 947.5,640 955.5,643.4 963.5,646 971.5,648.3 979.5,632.1 987.5,633.4 995.5,630.3 1003.5,635.2 1011.5,629.5 1019.5,622.2 1027.5,620.3 1035.5,620.3 1043.5,621.6 1051.5,620.3 1059.5,621.6 1067.5,625 1075.5,620.3 1083.5,621.6 1091.5,627.4 1099.5,620.3 1107.5,625.6 1115.5,615.6 1123.5,611.2 1131.5,613.3 1139.5,612 1147.5,609.9 1155.5,609.9 1163.5,609.1 1171.5,619.5 1179.5,619.5" fill="none" stroke="#1E90FF" stroke-width="1"/>
<text x="14" y="586" font-size="10" fill="#000" stroke="#000" stroke-width="0.25" textLength="68.5" lengthAdjust="spacingAndGlyphs">RSI(14) 54.9924</text>
<rect x="1199" y="575" width="2" height="1" fill="#000"/>
<rect x="1199" y="604" width="2" height="1" fill="#000"/>
<rect x="1199" y="644" width="2" height="1" fill="#000"/>
<rect x="1199" y="672" width="2" height="1" fill="#000"/>
<text x="1202" y="584" font-size="10" fill="#000" stroke="#000" stroke-width="0.25" textLength="14.5" lengthAdjust="spacingAndGlyphs">100</text>
<text x="1202" y="608" font-size="10" fill="#000" stroke="#000" stroke-width="0.25" textLength="9.5" lengthAdjust="spacingAndGlyphs">70</text>
<text x="1202" y="648" font-size="10" fill="#000" stroke="#000" stroke-width="0.25" textLength="9.5" lengthAdjust="spacingAndGlyphs">30</text>
<text x="1202" y="671" font-size="10" fill="#000" stroke="#000" stroke-width="0.25" textLength="4.6" lengthAdjust="spacingAndGlyphs">0</text>
<rect x="11" y="674" width="1" height="3" fill="#000"/>
<text x="9.9" y="687" font-size="10" fill="#000" stroke="#000" stroke-width="0.25" textLength="52" lengthAdjust="spacingAndGlyphs">28 Mar 2022</text>
<rect x="75" y="674" width="1" height="3" fill="#000"/>
<text x="73.9" y="687" font-size="10" fill="#000" stroke="#000" stroke-width="0.25" textLength="53.6" lengthAdjust="spacingAndGlyphs">29 Mar 12:00</text>
<rect x="139" y="674" width="1" height="3" fill="#000"/>
<text x="137.9" y="687" font-size="10" fill="#000" stroke="#000" stroke-width="0.25" textLength="53.6" lengthAdjust="spacingAndGlyphs">30 Mar 20:00</text>
<rect x="203" y="674" width="1" height="3" fill="#000"/>
<text x="201.9" y="687" font-size="10" fill="#000" stroke="#000" stroke-width="0.25" textLength="47.6" lengthAdjust="spacingAndGlyphs">1 Apr 04:00</text>
<rect x="267" y="674" width="1" height="3" fill="#000"/>
<text x="265.9" y="687" font-size="10" fill="#000" stroke="#000" stroke-width="0.25" textLength="47.6" lengthAdjust="spacingAndGlyphs">4 Apr 08:00</text>
<rect x="331" y="674" width="1" height="3" fill="#000"/>
<text x="329.9" y="687" font-size="10" fill="#000" stroke="#000" stroke-width="0.25" textLength="47.6" lengthAdjust="spacingAndGlyphs">5 Apr 16:00</text>
<rect x="395" y="674" width="1" height="3" fill="#000"/>
<text x="393.9" y="687" font-size="10" fill="#000" stroke="#000" stroke-width="0.25" textLength="47.6" lengthAdjust="spacingAndGlyphs">7 Apr 00:00</text>
<rect x="459" y="674" width="1" height="3" fill="#000"/>
<text x="457.9" y="687" font-size="10" fill="#000" stroke="#000" stroke-width="0.25" textLength="47.6" lengthAdjust="spacingAndGlyphs">8 Apr 08:00</text>
<rect x="523" y="674" width="1" height="3" fill="#000"/>
<text x="521.9" y="687" font-size="10" fill="#000" stroke="#000" stroke-width="0.25" textLength="53.6" lengthAdjust="spacingAndGlyphs">11 Apr 12:00</text>
<rect x="587" y="674" width="1" height="3" fill="#000"/>
<text x="585.9" y="687" font-size="10" fill="#000" stroke="#000" stroke-width="0.25" textLength="53.6" lengthAdjust="spacingAndGlyphs">12 Apr 20:00</text>
<rect x="651" y="674" width="1" height="3" fill="#000"/>
<text x="649.9" y="687" font-size="10" fill="#000" stroke="#000" stroke-width="0.25" textLength="53.6" lengthAdjust="spacingAndGlyphs">14 Apr 04:00</text>
<rect x="715" y="674" width="1" height="3" fill="#000"/>
<text x="713.9" y="687" font-size="10" fill="#000" stroke="#000" stroke-width="0.25" textLength="53.6" lengthAdjust="spacingAndGlyphs">18 Apr 08:00</text>
<rect x="779" y="674" width="1" height="3" fill="#000"/>
<text x="777.9" y="687" font-size="10" fill="#000" stroke="#000" stroke-width="0.25" textLength="53.6" lengthAdjust="spacingAndGlyphs">19 Apr 16:00</text>
<rect x="843" y="674" width="1" height="3" fill="#000"/>
<text x="841.9" y="687" font-size="10" fill="#000" stroke="#000" stroke-width="0.25" textLength="53.6" lengthAdjust="spacingAndGlyphs">21 Apr 00:00</text>
<rect x="907" y="674" width="1" height="3" fill="#000"/>
<text x="905.9" y="687" font-size="10" fill="#000" stroke="#000" stroke-width="0.25" textLength="53.6" lengthAdjust="spacingAndGlyphs">22 Apr 08:00</text>
<rect x="971" y="674" width="1" height="3" fill="#000"/>
<text x="969.9" y="687" font-size="10" fill="#000" stroke="#000" stroke-width="0.25" textLength="53.6" lengthAdjust="spacingAndGlyphs">25 Apr 12:00</text>
<rect x="1035" y="674" width="1" height="3" fill="#000"/>
<text x="1033.9" y="687" font-size="10" fill="#000" stroke="#000" stroke-width="0.25" textLength="53.6" lengthAdjust="spacingAndGlyphs">26 Apr 20:00</text>
<rect x="1099" y="674" width="1" height="3" fill="#000"/>
<text x="1097.9" y="687" font-size="10" fill="#000" stroke="#000" stroke-width="0.25" textLength="53.6" lengthAdjust="spacingAndGlyphs">28 Apr 04:00</text>
<rect x="1163" y="674" width="1" height="3" fill="#000"/>
<text x="1161.9" y="687" font-size="10" fill="#000" stroke="#000" stroke-width="0.25" textLength="53.6" lengthAdjust="spacingAndGlyphs">29 Apr 12:00</text>
</svg>
</body></html>
